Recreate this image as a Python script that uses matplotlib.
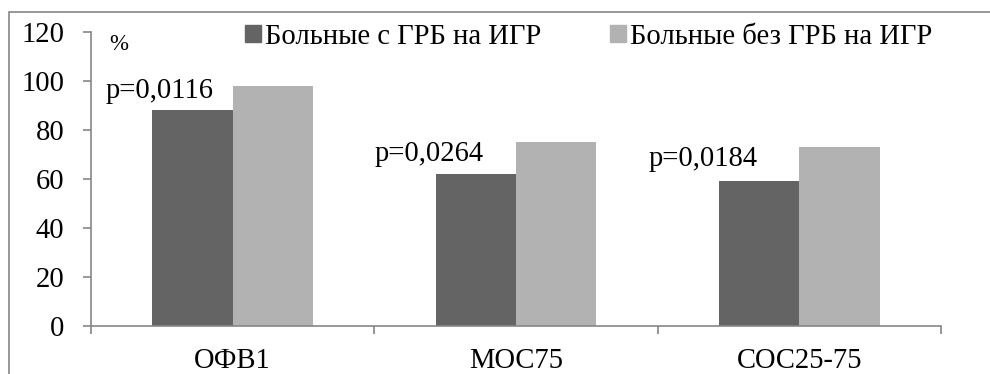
import matplotlib
matplotlib.use("Agg")
import matplotlib.pyplot as plt
from matplotlib.patches import Rectangle, Patch
import numpy as np

categories = ["ОФВ1", "МОС75", "СОС25-75"]
with_grb = [88, 62, 59]
without_grb = [98, 75, 73]
series_names = ["Больные с ГРБ на ИГР", "Больные без ГРБ на ИГР"]
p_labels = ["p=0,0116", "p=0,0264", "p=0,0184"]
p_x = [-0.447, 0.499, 1.466]
p_y = [93, 67.3, 65.3]
yticks = [0, 20, 40, 60, 80, 100, 120]

plt.rcParams['font.family'] = 'serif'
plt.rcParams['font.serif'] = ['Liberation Serif', 'Times New Roman', 'DejaVu Serif']
FS = 20.6
dark = "#646464"
light = "#b2b2b2"
axis_col = "#868686"

W, H = 990, 374
fig = plt.figure(figsize=(W/100, H/100), dpi=100)
ax = fig.add_axes([91/W, (H-326)/H, (941-91)/W, (326-32)/H])

x = np.arange(len(categories))
bw = 0.283
ax.bar(x - bw/2, with_grb, bw, color=dark, label=series_names[0])
ax.bar(x + bw/2, without_grb, bw, color=light, label=series_names[1])

ax.set_xlim(-0.5, len(categories) - 0.5)
ax.set_ylim(0, 120)
ax.set_yticks(yticks)
ax.set_yticklabels([str(v) for v in yticks], fontsize=FS)
ax.set_xticks(x)
ax.set_xticklabels(categories, fontsize=FS)
ax.tick_params(axis='x', length=0, pad=16)
ax.set_xticks(np.arange(len(categories) + 1) - 0.5, minor=True)
ax.tick_params(axis='x', which='minor', length=6, color=axis_col, width=1.2)
ax.tick_params(axis='y', length=6, color=axis_col, width=1.2, pad=13)

for s in ['top', 'right']:
    ax.spines[s].set_visible(False)
for s in ['left', 'bottom']:
    ax.spines[s].set_color(axis_col)
    ax.spines[s].set_linewidth(1.2)

for lab, px, py in zip(p_labels, p_x, p_y):
    ax.text(px, py, lab, fontsize=FS, ha='left', va='baseline')

ax.text(0.022, 0.956, "%", transform=ax.transAxes, fontsize=16.5, ha='left', va='center')

handles = [Patch(color=dark), Patch(color=light)]
fig.legend(handles, series_names, loc='center left',
           bbox_to_anchor=(245/W, 1 - 37/H), ncol=2, frameon=False,
           fontsize=FS, handlelength=0.55, handleheight=0.55,
           handletextpad=0.15, columnspacing=2.4, borderaxespad=0, borderpad=0)

# outer border (left and top visible)
fig.patches.append(Rectangle((9/W, -0.1), 1.2, 1 - 12/H + 0.1,
                             transform=fig.transFigure, fill=False,
                             edgecolor=axis_col, linewidth=1.2))

fig.savefig("out.png", dpi=100)
